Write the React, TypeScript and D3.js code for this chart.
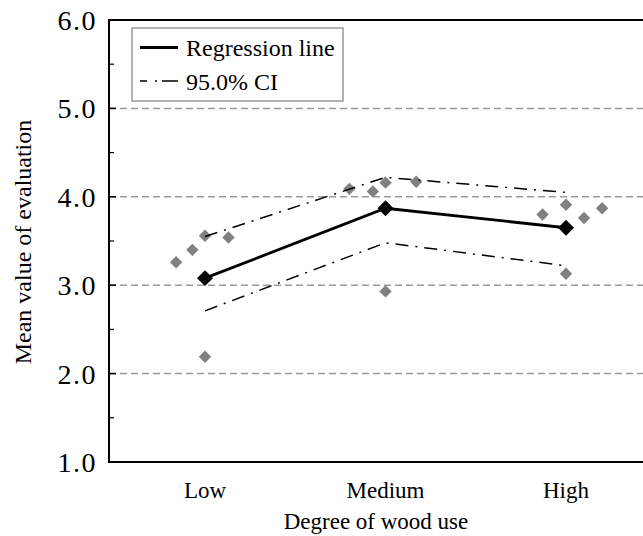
import React, { useEffect, useRef } from 'react';
import * as d3 from 'd3';

// categories on the x axis
const categories = ['Low', 'Medium', 'High'];

// regression line and 95% CI at each category
const regression = [3.08, 3.87, 3.65];
const ciUpper = [3.55, 4.22, 4.05];
const ciLower = [2.71, 3.48, 3.22];

// observed means (gray diamonds); offset is a small jitter in category steps
const obsCategory = ['Low', 'Low', 'Low', 'Low', 'Low',
  'Medium', 'Medium', 'Medium', 'Medium', 'Medium',
  'High', 'High', 'High', 'High', 'High'];
const obsValue = [3.26, 3.40, 3.56, 3.54, 2.19,
  4.09, 4.06, 4.16, 4.17, 2.93,
  3.80, 3.91, 3.76, 3.87, 3.13];
const obsOffset = [-0.16, -0.07, 0, 0.13, 0,
  -0.2, -0.07, 0, 0.17, 0,
  -0.13, 0, 0.1, 0.2, 0];

const yTicks = [1, 2, 3, 4, 5, 6];
const yMinor = [1.5, 2.5, 3.5, 4.5, 5.5];
const gridValues = [2, 3, 4, 5];

const App = () => {
  const svgRef = useRef<SVGSVGElement | null>(null);

  useEffect(() => {
    const width = 643;
    const height = 536;
    const left = 109;
    const font = 'Liberation Serif';

    const svg = d3.select(svgRef.current);
    svg.selectAll('*').remove();

    const x = d3.scalePoint<string>().domain(categories).range([205, 566]);
    const step = x.step();
    const y = d3.scaleLinear().domain([1, 6]).range([462, 20]);

    // dashed grid lines
    svg.append('g')
      .selectAll('line')
      .data(gridValues)
      .enter()
      .append('line')
      .attr('x1', left)
      .attr('x2', width)
      .attr('y1', d => y(d))
      .attr('y2', d => y(d))
      .attr('stroke', '#9a9a9a')
      .attr('stroke-width', 1.5)
      .attr('stroke-dasharray', '7,4');

    // frame (right side runs off the picture)
    svg.append('path')
      .attr('d', `M${width + 5},${y(6)}H${left}V${y(1)}H${width + 5}`)
      .attr('fill', 'none')
      .attr('stroke', 'black')
      .attr('stroke-width', 2);

    // inward ticks
    svg.append('g')
      .selectAll('line')
      .data(yTicks.slice(1, 5))
      .enter()
      .append('line')
      .attr('x1', left)
      .attr('x2', left + 7)
      .attr('y1', d => y(d))
      .attr('y2', d => y(d))
      .attr('stroke', 'black')
      .attr('stroke-width', 1.5);

    svg.append('g')
      .selectAll('line')
      .data(yMinor)
      .enter()
      .append('line')
      .attr('x1', left)
      .attr('x2', left + 5)
      .attr('y1', d => y(d))
      .attr('y2', d => y(d))
      .attr('stroke', 'black')
      .attr('stroke-width', 1.2);

    // y tick labels
    svg.append('g')
      .selectAll('text')
      .data(yTicks)
      .enter()
      .append('text')
      .attr('x', left - 12)
      .attr('y', d => y(d))
      .attr('dy', '0.36em')
      .attr('text-anchor', 'end')
      .attr('font-family', font)
      .attr('font-size', 28)
      .attr('letter-spacing', 1.5)
      .text(d => d.toFixed(1));

    // x tick labels
    svg.append('g')
      .selectAll('text')
      .data(categories)
      .enter()
      .append('text')
      .attr('x', d => x(d) as number)
      .attr('y', 498)
      .attr('text-anchor', 'middle')
      .attr('font-family', font)
      .attr('font-size', 23)
      .text(d => d);

    // axis titles
    svg.append('text')
      .attr('x', 376)
      .attr('y', 529)
      .attr('text-anchor', 'middle')
      .attr('font-family', font)
      .attr('font-size', 23)
      .text('Degree of wood use');

    svg.append('text')
      .attr('transform', 'rotate(-90)')
      .attr('x', -242)
      .attr('y', 31)
      .attr('text-anchor', 'middle')
      .attr('font-family', font)
      .attr('font-size', 24)
      .text('Mean value of evaluation');

    const diamond = d3.symbol().type(d3.symbolDiamond2);

    // observed points
    svg.append('g')
      .selectAll('path')
      .data(obsValue)
      .enter()
      .append('path')
      .attr('d', diamond.size(98)())
      .attr('transform', (d, i) =>
        `translate(${(x(obsCategory[i]) as number) + obsOffset[i] * step},${y(d)})`)
      .attr('fill', '#808080');

    const line = d3.line<number>()
      .x((d, i) => x(categories[i]) as number)
      .y(d => y(d));

    // confidence interval
    [ciUpper, ciLower].forEach(ci => {
      svg.append('path')
        .attr('d', line(ci))
        .attr('fill', 'none')
        .attr('stroke', 'black')
        .attr('stroke-width', 1.5)
        .attr('stroke-dasharray', '13,7,2,7');
    });

    // regression line
    svg.append('path')
      .attr('d', line(regression))
      .attr('fill', 'none')
      .attr('stroke', 'black')
      .attr('stroke-width', 2.8);

    svg.append('g')
      .selectAll('path')
      .data(regression)
      .enter()
      .append('path')
      .attr('d', diamond.size(162)())
      .attr('transform', (d, i) => `translate(${x(categories[i])},${y(d)})`)
      .attr('fill', 'black');

    // legend
    const legend = svg.append('g');
    legend.append('rect')
      .attr('x', 132)
      .attr('y', 28)
      .attr('width', 211)
      .attr('height', 73)
      .attr('fill', 'white')
      .attr('stroke', '#999')
      .attr('stroke-width', 1.5);
    legend.append('line')
      .attr('x1', 140).attr('x2', 178)
      .attr('y1', 47.5).attr('y2', 47.5)
      .attr('stroke', 'black')
      .attr('stroke-width', 2.8);
    legend.append('line')
      .attr('x1', 140).attr('x2', 178)
      .attr('y1', 81).attr('y2', 81)
      .attr('stroke', 'black')
      .attr('stroke-width', 1.5)
      .attr('stroke-dasharray', '7,8,2,5,16');
    legend.append('text')
      .attr('x', 186).attr('y', 55.5)
      .attr('font-family', font)
      .attr('font-size', 24)
      .text('Regression line');
    legend.append('text')
      .attr('x', 186).attr('y', 89.5)
      .attr('font-family', font)
      .attr('font-size', 24)
      .text('95.0% CI');

    svg.attr('width', width).attr('height', height);
  }, []);

  return (
    <svg
      ref={svgRef}
      width={643}
      height={536}
      style={{ position: 'absolute', left: 0, top: 0, background: 'white' }}
    ></svg>
  );
};

export default App;
